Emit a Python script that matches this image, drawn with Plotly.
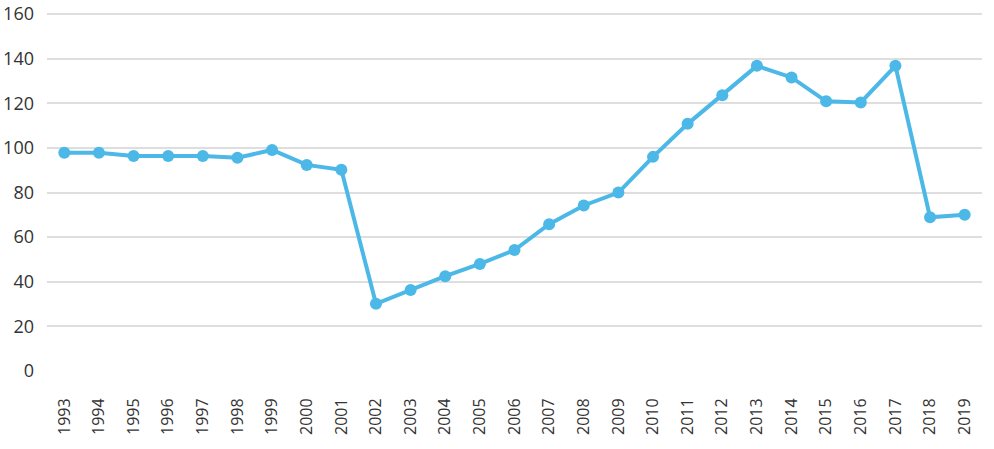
import plotly.graph_objects as go

years = [str(y) for y in range(1993, 2020)]
values = [97.8, 97.8, 96.4, 96.4, 96.4, 95.6, 99.1, 92.4, 90.2, 30.1, 36.3, 42.5, 48.0,
          54.2, 65.8, 74.2, 80.0, 96.0, 110.8, 123.6, 136.8, 131.6, 120.9, 120.4, 136.8,
          68.9, 70.1]
y_ticks = [0, 20, 40, 60, 80, 100, 120, 140, 160]

color = "#4bb8e8"

fig = go.Figure()
fig.add_trace(go.Scatter(
    x=years, y=values, mode="lines+markers",
    line=dict(color=color, width=4),
    marker=dict(color=color, size=12),
    showlegend=False,
))

fig.update_layout(
    width=994, height=449,
    margin=dict(l=47, r=12, t=13, b=78),
    paper_bgcolor="white", plot_bgcolor="white",
    font=dict(family="Open Sans", color="#333333", size=17),
    xaxis=dict(
        type="category", range=[-0.5, 26.5], automargin=False,
        tickangle=-90, tickfont=dict(size=16),
        showgrid=False, zeroline=False, showline=False,
        ticks="outside", ticklen=14, tickcolor="rgba(0,0,0,0)",
        ticklabelstandoff=6,
    ),
    yaxis=dict(
        range=[0, 160.5], tickvals=y_ticks, automargin=False,
        showgrid=True, gridcolor="#dedede", gridwidth=1.5,
        zeroline=False, showline=False, ticks="",
        ticklabelstandoff=12, tickfont=dict(size=18),
        ticklabeloverflow="allow",
    ),
)

fig.write_html("out.html")
